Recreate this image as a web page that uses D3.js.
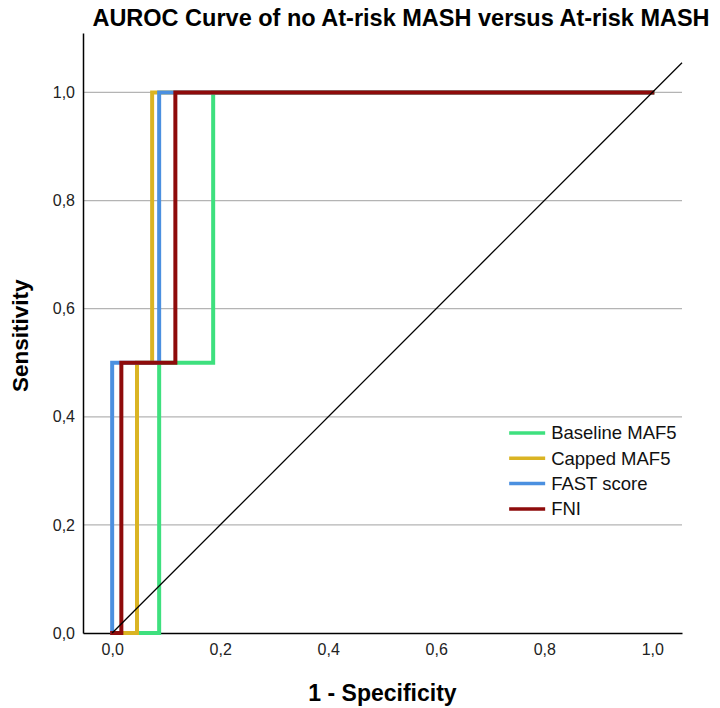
<!DOCTYPE html>
<html>
<head>
<meta charset="utf-8">
<script src="https://cdn.jsdelivr.net/npm/d3@7"></script>
<style>
  body { margin: 0; background: #fff; }
  svg { display: block; font-family: "Liberation Sans", Arial, sans-serif; }
</style>
</head>
<body>
<svg id="chart" width="720" height="708"></svg>
<script>
// ROC step curves: [1 - specificity, sensitivity]
var baselineMAF5 = [[0, 0], [0.087, 0], [0.087, 0.5], [0.187, 0.5], [0.187, 1], [1, 1]];
var cappedMAF5   = [[0, 0], [0.046, 0], [0.046, 0.5], [0.074, 0.5], [0.074, 1], [1, 1]];
var fastScore    = [[0, 0], [0, 0.5], [0.087, 0.5], [0.087, 1], [1, 1]];
var fni          = [[0, 0], [0.017, 0], [0.017, 0.5], [0.117, 0.5], [0.117, 1], [1, 1]];

var seriesNames  = ['Baseline MAF5', 'Capped MAF5', 'FAST score', 'FNI'];
var seriesColors = ['#3ee07e', '#dab423', '#4b90e0', '#8e0b0b'];
var tickValues   = [0, 0.2, 0.4, 0.6, 0.8, 1.0];

var series = [baselineMAF5, cappedMAF5, fastScore, fni];

//------------------------------------------------------------
// Layout

var margin = {top: 33, right: 38, bottom: 75, left: 83}
  , width = 720
  , height = 708
  , innerW = width - margin.left - margin.right
  , innerH = height - margin.top - margin.bottom
  ;

var x = d3.scaleLinear().domain([-0.054, 1.055]).range([0, innerW]);
var y = d3.scaleLinear().domain([0, 1.11]).range([innerH, 0]);

var svg = d3.select('#chart');
var g = svg.append('g').attr('transform', 'translate(' + margin.left + ',' + margin.top + ')');

var fmt = function(d) { return d3.format('.1f')(d).replace('.', ','); };

// gridlines
g.selectAll('line.grid')
    .data(tickValues.filter(function(d) { return d > 0; }))
  .enter().append('line')
    .attr('class', 'grid')
    .attr('x1', 0).attr('x2', innerW)
    .attr('y1', function(d) { return y(d); })
    .attr('y2', function(d) { return y(d); })
    .style('stroke', '#b4b4b4')
    .style('stroke-width', 1.2);

// axes
var yAxis = g.append('g').call(d3.axisLeft(y).tickValues(tickValues).tickSize(0).tickPadding(8).tickFormat(fmt));
var xAxis = g.append('g').attr('transform', 'translate(0,' + innerH + ')')
    .call(d3.axisBottom(x).tickValues(tickValues).tickSize(0).tickPadding(11).tickFormat(fmt));

[xAxis, yAxis].forEach(function(a) {
  a.select('.domain').style('stroke', '#000').style('stroke-width', 1.5);
  a.selectAll('text').style('font-size', '16px').style('fill', '#222').style('font-family', '"Liberation Sans", Arial, sans-serif');
});

// curves
var line = d3.line()
    .x(function(d) { return x(d[0]); })
    .y(function(d) { return y(d[1]); });

g.selectAll('path.curve')
    .data(series)
  .enter().append('path')
    .attr('class', 'curve')
    .attr('d', line)
    .style('fill', 'none')
    .style('stroke', function(d, i) { return seriesColors[i]; })
    .style('stroke-width', 4)
    .style('stroke-linejoin', 'miter')
    .style('stroke-linecap', 'square');

// reference diagonal
g.append('line')
    .attr('x1', x(0)).attr('y1', y(0))
    .attr('x2', x(1.055)).attr('y2', y(1.055))
    .style('stroke', '#000')
    .style('stroke-width', 1.3);

// legend
var legend = g.selectAll('g.legend')
    .data(seriesNames)
  .enter().append('g')
    .attr('class', 'legend')
    .attr('transform', function(d, i) { return 'translate(' + (x(0.735)) + ',' + (y(0.37) + i * 25.3) + ')'; });

legend.append('line')
    .attr('x1', 0).attr('x2', 36)
    .style('stroke', function(d, i) { return seriesColors[i]; })
    .style('stroke-width', 3.5);

legend.append('text')
    .attr('x', 42).attr('dy', '0.35em')
    .style('font-size', '18.5px')
    .style('fill', '#111')
    .text(function(d) { return d; });

// titles
svg.append('text')
    .attr('x', 401).attr('y', 26)
    .attr('text-anchor', 'middle')
    .style('font-size', '23.5px').style('font-weight', 'bold')
    .text('AUROC Curve of no At-risk MASH versus At-risk MASH');

svg.append('text')
    .attr('x', margin.left + innerW / 2).attr('y', 701)
    .attr('text-anchor', 'middle')
    .style('font-size', '23px').style('font-weight', 'bold')
    .text('1 - Specificity');

svg.append('text')
    .attr('transform', 'translate(28,' + (margin.top + y(0.55)) + ') rotate(-90)')
    .attr('text-anchor', 'middle')
    .style('font-size', '22.5px').style('font-weight', 'bold')
    .text('Sensitivity');
</script>
</body>
</html>
